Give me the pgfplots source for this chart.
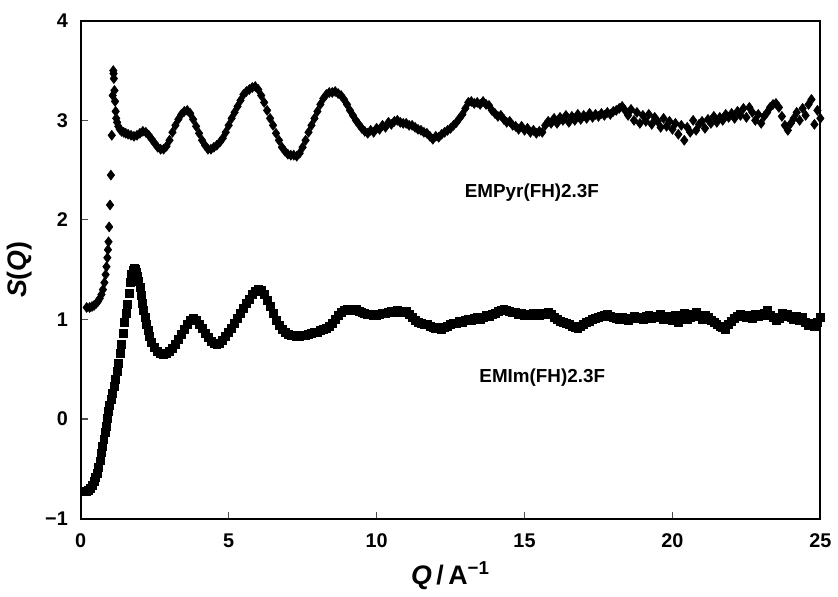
\documentclass[border=0pt]{standalone}
\usepackage{fontspec}
\setmainfont{Liberation Sans}
\usepackage{pgfplots}
\usepackage{pgfplotstable}
\pgfplotsset{compat=1.18}
\usetikzlibrary{calc}

\pgfplotstableread{
x y
0.20 1.12
0.30 1.12
0.38 1.13
0.45 1.14
0.52 1.16
0.58 1.18
0.64 1.21
0.70 1.25
0.75 1.30
0.80 1.37
0.84 1.45
0.87 1.53
0.90 1.62
0.92 1.70
0.94 1.78
0.96 1.93
0.99 2.15
1.02 2.45
1.05 2.85
1.08 3.25
1.10 3.50
1.11 3.47
1.12 3.42
1.14 3.30
1.16 3.19
1.18 3.09
1.20 3.02
1.23 2.98
1.27 2.94
1.32 2.91
1.38 2.89
1.45 2.88
1.52 2.87
1.6 2.86
1.7 2.85
1.8 2.84
1.9 2.85
2.0 2.87
2.1 2.89
2.2 2.88
2.3 2.85
2.4 2.81
2.5 2.77
2.6 2.73
2.7 2.71
2.8 2.71
2.9 2.74
3.0 2.80
3.1 2.88
3.2 2.95
3.3 3.01
3.4 3.06
3.5 3.09
3.6 3.10
3.7 3.07
3.8 3.01
3.9 2.94
4.0 2.87
4.1 2.80
4.2 2.75
4.3 2.71
4.4 2.71
4.5 2.73
4.6 2.75
4.7 2.78
4.8 2.82
4.9 2.88
5.0 2.95
5.1 3.02
5.2 3.08
5.3 3.14
5.4 3.20
5.5 3.26
5.6 3.29
5.7 3.31
5.8 3.33
5.9 3.34
6.0 3.31
6.1 3.25
6.2 3.18
6.3 3.10
6.4 3.02
6.5 2.95
6.6 2.87
6.7 2.80
6.8 2.73
6.9 2.69
7.0 2.66
7.1 2.65
7.2 2.65
7.3 2.64
7.4 2.67
7.5 2.73
7.6 2.80
7.7 2.88
7.8 2.95
7.9 3.02
8.0 3.09
8.1 3.16
8.2 3.22
8.3 3.26
8.4 3.28
8.5 3.28
8.6 3.29
8.7 3.27
8.8 3.25
8.9 3.21
9.0 3.16
9.1 3.10
9.2 3.05
9.3 3.00
9.4 2.96
9.5 2.92
9.6 2.89
9.7 2.87
9.8 2.90
9.9 2.88
10.0 2.92
10.1 2.91
10.2 2.95
10.3 2.93
10.4 2.98
10.5 2.96
10.6 2.99
10.7 3.00
10.8 2.98
10.9 2.97
11.0 2.97
11.1 2.95
11.2 2.95
11.3 2.93
11.4 2.91
11.5 2.90
11.6 2.88
11.7 2.87
11.8 2.84
11.9 2.81
12.0 2.84
12.1 2.83
12.2 2.86
12.3 2.88
12.4 2.90
12.5 2.92
12.6 2.95
12.7 2.98
12.8 3.02
12.9 3.06
13.0 3.12
13.1 3.18
13.2 3.19
13.3 3.17
13.4 3.18
13.5 3.16
13.6 3.19
13.7 3.16
13.8 3.15
13.9 3.10
14.0 3.07
14.1 3.04
14.2 3.05
14.3 3.01
14.4 2.98
14.5 2.99
14.6 2.95
14.7 2.94
14.8 2.91
14.9 2.94
15.0 2.90
15.1 2.92
15.2 2.88
15.3 2.90
15.4 2.87
15.5 2.89
15.6 2.88
15.7 2.95
15.8 2.99
15.9 2.97
16.0 3.02
16.1 2.97
16.2 3.03
16.3 3.00
16.4 3.05
16.5 2.98
16.6 3.04
16.7 3.00
16.8 3.06
16.9 3.01
17.0 3.05
17.1 3.02
17.2 3.07
17.3 3.03
17.4 3.06
17.5 3.04
17.6 3.07
17.7 3.05
17.8 3.08
17.9 3.06
18.0 3.09
18.1 3.10
18.2 3.12
18.3 3.14
18.4 3.10
18.5 3.05
18.6 3.11
18.7 3.00
18.8 3.08
18.9 2.97
19.0 3.05
19.1 2.99
19.2 3.06
19.3 2.96
19.4 3.03
19.5 2.99
19.6 2.93
19.7 3.02
19.8 2.94
19.9 2.99
20.0 2.91
20.1 2.97
20.2 2.86
20.3 2.95
20.4 2.80
20.5 2.93
20.6 2.88
20.7 3.00
20.8 2.90
20.9 2.96
21.0 2.99
21.1 2.92
21.2 3.01
21.3 2.97
21.4 3.04
21.5 2.98
21.6 3.03
21.7 3.00
21.8 3.06
21.9 3.03
22.0 3.07
22.1 3.02
22.2 3.09
22.3 3.05
22.4 3.12
22.5 3.03
22.6 3.13
22.7 3.08
22.8 3.00
22.9 3.06
23.0 2.97
23.1 3.04
23.2 3.08
23.3 3.13
23.4 3.16
23.5 3.17
23.6 3.13
23.7 3.04
23.8 2.95
23.9 2.90
24.0 2.97
24.1 3.02
24.2 3.08
24.3 3.00
24.4 3.12
24.5 3.05
24.6 3.16
24.7 3.21
24.8 2.96
24.9 3.10
25.0 3.02
}\empyr

\pgfplotstableread{
x y
0.20 -0.73
0.27 -0.72
0.33 -0.70
0.39 -0.67
0.45 -0.63
0.50 -0.59
0.55 -0.55
0.60 -0.49
0.65 -0.42
0.70 -0.34
0.74 -0.27
0.78 -0.20
0.83 -0.13
0.87 -0.07
0.90 0.01
0.94 0.08
0.98 0.14
1.02 0.20
1.07 0.26
1.12 0.33
1.17 0.40
1.22 0.48
1.27 0.56
1.33 0.66
1.38 0.75
1.43 0.86
1.48 0.97
1.53 1.06
1.58 1.15
1.63 1.26
1.68 1.37
1.72 1.45
1.76 1.49
1.80 1.51
1.84 1.50
1.88 1.47
1.92 1.43
1.96 1.38
2.00 1.32
2.04 1.24
2.08 1.16
2.12 1.09
2.17 1.02
2.22 0.95
2.27 0.89
2.33 0.83
2.40 0.77
2.5 0.72
2.6 0.68
2.7 0.66
2.8 0.65
2.9 0.66
3.0 0.68
3.1 0.71
3.2 0.75
3.3 0.80
3.4 0.85
3.5 0.90
3.6 0.95
3.7 0.99
3.8 1.01
3.9 0.99
4.0 0.95
4.1 0.91
4.2 0.86
4.3 0.82
4.4 0.78
4.5 0.76
4.6 0.75
4.7 0.76
4.8 0.79
4.9 0.83
5.0 0.87
5.1 0.91
5.2 0.96
5.3 1.01
5.4 1.06
5.5 1.11
5.6 1.16
5.7 1.20
5.8 1.25
5.9 1.28
6.0 1.30
6.1 1.29
6.2 1.25
6.3 1.19
6.4 1.13
6.5 1.06
6.6 0.99
6.7 0.94
6.8 0.90
6.9 0.87
7.0 0.85
7.1 0.84
7.2 0.84
7.3 0.83
7.4 0.83
7.5 0.84
7.6 0.84
7.7 0.85
7.8 0.86
7.9 0.87
8.0 0.87
8.1 0.89
8.2 0.90
8.3 0.91
8.4 0.93
8.5 0.96
8.6 1.00
8.7 1.04
8.8 1.07
8.9 1.09
9.0 1.10
9.1 1.10
9.2 1.09
9.3 1.10
9.4 1.08
9.5 1.07
9.6 1.06
9.7 1.05
9.8 1.05
9.9 1.04
10.0 1.04
10.1 1.05
10.2 1.06
10.3 1.06
10.4 1.07
10.5 1.08
10.6 1.07
10.7 1.09
10.8 1.08
10.9 1.07
11.0 1.08
11.1 1.05
11.2 1.02
11.3 0.99
11.4 0.97
11.5 0.96
11.6 0.95
11.7 0.95
11.8 0.93
11.9 0.92
12.0 0.91
12.1 0.92
12.2 0.90
12.3 0.92
12.4 0.93
12.5 0.95
12.6 0.96
12.7 0.96
12.8 0.98
12.9 0.97
13.0 0.99
13.1 1.00
13.2 0.99
13.3 1.01
13.4 1.02
13.5 1.00
13.6 1.02
13.7 1.04
13.8 1.03
13.9 1.05
14.0 1.06
14.1 1.08
14.2 1.09
14.3 1.10
14.4 1.09
14.5 1.08
14.6 1.07
14.7 1.07
14.8 1.05
14.9 1.06
15.0 1.04
15.1 1.05
15.2 1.04
15.3 1.06
15.4 1.05
15.5 1.04
15.6 1.06
15.7 1.05
15.8 1.07
15.9 1.05
16.0 1.02
16.1 1.00
16.2 0.98
16.3 0.97
16.4 0.96
16.5 0.95
16.6 0.93
16.7 0.92
16.8 0.91
16.9 0.93
17.0 0.95
17.1 0.97
17.2 0.98
17.3 1.00
17.4 1.01
17.5 1.02
17.6 1.03
17.7 1.04
17.8 1.05
17.9 1.03
18.0 1.02
18.1 1.01
18.2 1.00
18.3 1.02
18.4 1.01
18.5 0.99
18.6 1.01
18.7 1.03
18.8 1.01
18.9 1.02
19.0 1.00
19.1 1.03
19.2 1.04
19.3 1.01
19.4 1.03
19.5 1.02
19.6 1.05
19.7 1.00
19.8 1.03
19.9 1.02
20.0 0.99
20.1 1.04
20.2 0.97
20.3 1.03
20.4 1.06
20.5 1.00
20.6 1.02
20.7 1.05
20.8 1.07
20.9 1.03
21.0 1.00
21.1 1.04
21.2 1.02
21.3 0.99
21.4 0.97
21.5 0.95
21.6 0.93
21.7 0.92
21.8 0.90
21.9 0.95
22.0 0.98
22.1 1.01
22.2 1.03
22.3 1.05
22.4 1.04
22.5 1.02
22.6 1.04
22.7 1.01
22.8 1.05
22.9 1.03
23.0 1.04
23.1 1.06
23.2 1.09
23.3 1.04
23.4 1.02
23.5 0.99
23.6 1.01
23.7 1.06
23.8 1.03
23.9 1.05
24.0 1.02
24.1 1.00
24.2 1.03
24.3 0.99
24.4 1.02
24.5 0.97
24.6 0.94
24.7 0.96
24.8 0.93
24.9 0.97
25.0 1.02
}\emim

\begin{document}
\begin{tikzpicture}
\begin{axis}[
  width=373pt, height=251pt, scale only axis,
  xmin=0, xmax=25, ymin=-1, ymax=4,
  xtick={0,5,10,15,20,25}, ytick={-1,0,1,2,3,4},
  xticklabels={0,5,10,15,20,25},
  yticklabels={−1,0,1,2,3,4},
  tick align=inside, xtick pos=bottom, ytick pos=left,
  major tick length=3.5pt,
  axis line style={line width=1pt},
  tick style={line width=0.6pt, black!70},
  ticklabel style={font=\fontsize{10}{12}\selectfont\bfseries},
  xticklabel style={yshift=-4pt},
  yticklabel style={xshift=-3pt},
  xlabel={\bfseries\itshape Q\upshape\,/\,A\textsuperscript{−1}},
  ylabel={\bfseries\itshape S\upshape(\itshape Q\upshape)},
  label style={font=\fontsize{13.5}{15}\selectfont\bfseries},
  clip=false,
]
\addplot[only marks, mark=diamond*, mark size=2.5pt,
  mark options={fill=black, draw=black, line width=0.3pt}]
  table[x=x, y=y]{\empyr};
\addplot[only marks, mark=square*, mark size=2pt,
  mark options={fill=black, draw=black, line width=0.3pt}]
  table[x=x, y=y]{\emim};
\node[font=\fontsize{9.5}{11}\selectfont\bfseries] at (axis cs:15.25,2.27) {EMPyr(FH)2.3F};
\node[font=\fontsize{9.5}{11}\selectfont\bfseries] at (axis cs:15.6,0.42) {EMIm(FH)2.3F};
\end{axis}
\path ($(current axis.south west)+(-40pt,-35.5pt)$) rectangle ($(current axis.north east)+(6pt,10.5pt)$);
\end{tikzpicture}
\end{document}
